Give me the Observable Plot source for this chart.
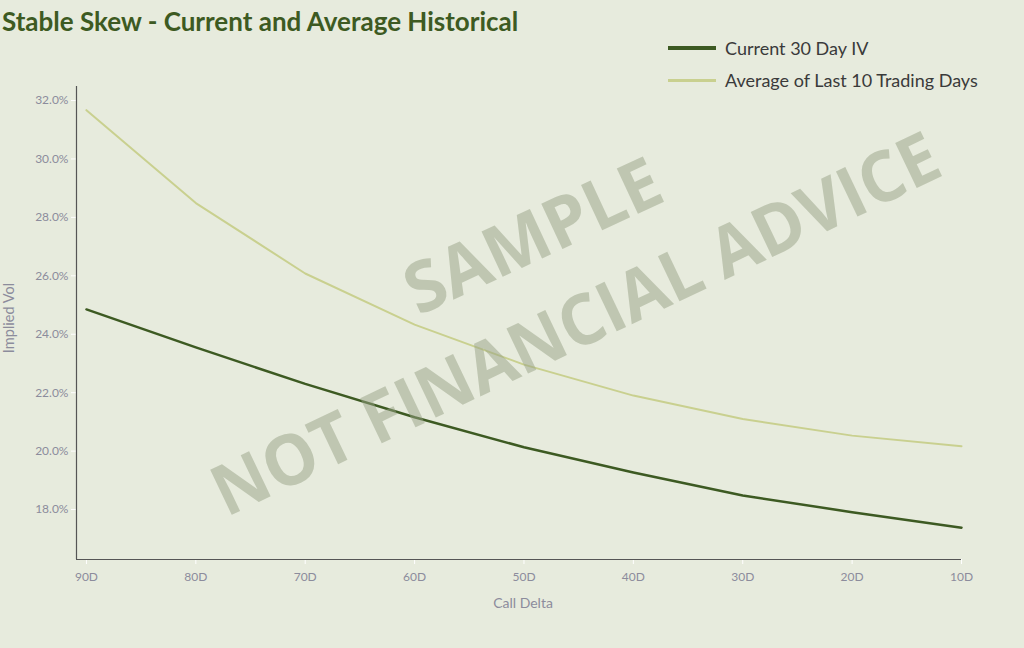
<!DOCTYPE html>
<html><head><meta charset="utf-8">
<script src="https://cdn.jsdelivr.net/npm/d3@7"></script>
<script src="https://cdn.jsdelivr.net/npm/@observablehq/plot@0.6"></script>
<style>
html,body{margin:0;padding:0;background:#e7ebdd;}
#wrap{position:relative;width:1024px;height:648px;overflow:hidden;font-family:Lato,sans-serif;background:#e7ebdd;}
#chart{position:absolute;left:0;top:0;}
#title{position:absolute;left:2px;top:5px;font-size:26px;font-weight:700;color:#3d5a22;white-space:nowrap;}
#legend{position:absolute;left:668px;top:32px;font-size:18px;color:#3a3a3a;}
.item{display:flex;align-items:center;height:32px;white-space:nowrap;}
.sw{width:48px;margin-right:9px;}
.axt{position:absolute;font-size:14px;color:#8c8c9c;white-space:nowrap;line-height:1;}
#wm{position:absolute;left:0;top:0;pointer-events:none;}
</style></head><body>
<div id="wrap">
<div id="chart"></div>
<div id="title">Stable Skew - Current and Average Historical</div>
<div id="legend"></div>
<div class="axt" id="xt" style="left:523px;top:603px;transform:translate(-50%,-50%);">Call Delta</div>
<div class="axt" id="yt" style="left:9px;top:318px;font-size:14.5px;transform:translate(-50%,-50%) rotate(-90deg);">Implied Vol</div>
<svg id="wm" width="1024" height="648">
  <g font-family="'Open Sans', sans-serif" font-weight="700" font-size="70" fill="#97a186" fill-opacity="0.5" text-anchor="middle">
    <text x="543" y="258" transform="rotate(-25 543 258)" textLength="275" lengthAdjust="spacingAndGlyphs">SAMPLE</text>
    <text x="586" y="346" transform="rotate(-25.5 586 346)" textLength="797" lengthAdjust="spacingAndGlyphs">NOT FINANCIAL ADVICE</text>
  </g>
</svg>
</div>
<script>
// Data
const deltas = [90, 80, 70, 60, 50, 40, 30, 20, 10];
const current30DayIV = [24.85, 23.55, 22.30, 21.16, 20.13, 19.27, 18.48, 17.91, 17.38];
const avgLast10Days = [31.67, 28.49, 26.08, 24.33, 22.96, 21.90, 21.10, 20.53, 20.17];
const yTicks = [18, 20, 22, 24, 26, 28, 30, 32];
const seriesNames = ["Current 30 Day IV", "Average of Last 10 Trading Days"];
const seriesColors = ["#3d5a22", "#c9d08f"];
const seriesWidths = [2.5, 2];
const xDomain = [90.91, 10];
const yDomain = [16.29, 32.48];

const rowsCurrent = deltas.map((d, i) => ({delta: d, value: current30DayIV[i], series: seriesNames[0]}));
const rowsAvg = deltas.map((d, i) => ({delta: d, value: avgLast10Days[i], series: seriesNames[1]}));

const chart = Plot.plot({
  width: 1024,
  height: 648,
  marginLeft: 76,
  marginRight: 63,
  marginTop: 86,
  marginBottom: 89,
  style: {background: "transparent", fontFamily: "Lato, sans-serif", fontSize: "12px", color: "#8c8c9c", overflow: "visible"},
  x: {type: "linear", domain: xDomain},
  y: {domain: yDomain},
  color: {domain: seriesNames, range: seriesColors},
  marks: [
    Plot.axisX({ticks: deltas, tickFormat: d => d + "D", tickSize: 5, tickPadding: 8, stroke: "#ffffff", fill: "#8c8c9c", label: null}),
    Plot.axisY({ticks: yTicks, tickFormat: d => d.toFixed(1) + "%", tickSize: 5, tickPadding: 3, stroke: "#ffffff", fill: "#8c8c9c", label: null}),
    Plot.ruleY([yDomain[0]], {stroke: "#555555", strokeWidth: 1.2}),
    Plot.ruleX([xDomain[0]], {stroke: "#555555", strokeWidth: 1.2}),
    Plot.line(rowsAvg, {x: "delta", y: "value", stroke: "series", strokeWidth: seriesWidths[1]}),
    Plot.line(rowsCurrent, {x: "delta", y: "value", stroke: "series", strokeWidth: seriesWidths[0]})
  ]
});
document.getElementById("chart").appendChild(chart);

const legend = document.getElementById("legend");
seriesNames.forEach((name, i) => {
  const item = document.createElement("div");
  item.className = "item";
  const sw = document.createElement("div");
  sw.className = "sw";
  sw.style.height = (i === 0 ? 3.5 : 3) + "px";
  sw.style.background = seriesColors[i];
  const t = document.createElement("span");
  t.textContent = name;
  item.appendChild(sw);
  item.appendChild(t);
  legend.appendChild(item);
});
</script>
</body></html>
